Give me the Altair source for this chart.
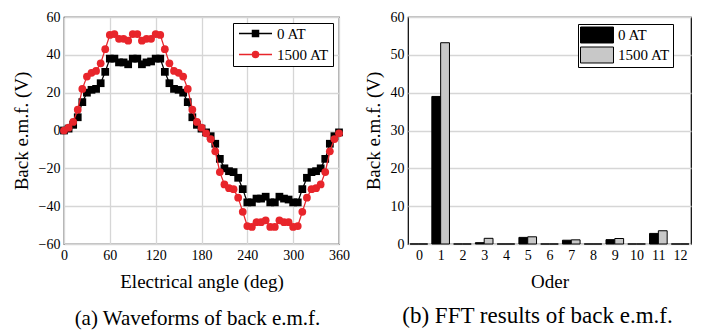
import altair as alt
import pandas as pd

FONT = "Liberation Serif, Times New Roman, DejaVu Serif, serif"

# ---- (a) waveform data ----
angle = [0, 6, 12, 18, 24, 30, 36, 42, 48, 54, 60, 66, 72, 78, 84, 90, 96, 102, 108, 114,
         120, 126, 132, 138, 144, 150, 156, 162, 168, 174, 180, 186, 192, 198, 204, 210,
         216, 222, 228, 234, 240, 246, 252, 258, 264, 270, 276, 282, 288, 294, 300, 306,
         312, 318, 324, 330, 336, 342, 348, 354, 360]
emf_0at = [0, 1, 3, 7, 15, 20, 21.5, 22, 25, 31, 38, 38, 36, 36, 35, 38, 38, 35, 36, 36.5,
           38, 38, 31, 25, 22, 21.5, 20, 15, 7, 3, 1,
           -1, -3, -7, -15, -20, -21.5, -22, -25, -31, -38, -38, -36, -36, -35, -38, -38,
           -35, -36, -36.5, -38, -38, -31, -25, -22, -21.5, -20, -15, -7, -3, -1]
emf_1500at = [0, 1.5, 4.5, 11, 22, 28.5, 30.5, 31.5, 35.5, 43, 50.5, 51, 48.5, 48.5, 47.5, 51,
              51, 47.5, 48.5, 48.5, 51, 50.5, 43, 35.5, 31.5, 30.5, 28.5, 22, 11, 4.5, 1.5,
              -1.5, -4.5, -11, -22, -28.5, -30.5, -31, -35.5, -43, -50.5, -51, -48.5, -48.5,
              -47.5, -51, -51, -47.5, -48.5, -48.5, -51, -50.5, -43, -35.5, -31, -30.5, -28.5,
              -22, -11, -4.5, -1.5]
series = ["0 AT", "1500 AT"]

# ---- (b) FFT data ----
orders = [str(i) for i in range(13)]
fft_0at = [0, 39.0, 0, 0.35, 0, 1.75, 0, 1.0, 0, 1.15, 0, 2.8, 0]
fft_1500at = [0, 53.2, 0, 1.5, 0, 1.9, 0, 1.1, 0, 1.45, 0, 3.5, 0]

BLACK = "#000000"
RED = "#e8252b"
GRAY = "#c8c8c8"

wave = pd.DataFrame({
    "angle": angle + angle,
    "emf": emf_0at + emf_1500at,
    "series": [series[0]] * len(angle) + [series[1]] * len(angle),
})
fft = pd.DataFrame({
    "order": orders + orders,
    "emf": fft_0at + fft_1500at,
    "series": [series[0]] * len(orders) + [series[1]] * len(orders),
})

SQ_LINE = "M-5.5,0H5.5M-1,-1H1V1H-1Z"
CI_LINE = "M-5.5,0H5.5M1,0A1,1 0 1,1 -1,0A1,1 0 1,1 1,0Z"
RECT = "M-2,-0.97H2V0.97H-2Z"

x_a = alt.X("angle:Q", scale=alt.Scale(domain=[0, 360], nice=False),
            axis=alt.Axis(values=[0, 60, 120, 180, 240, 300, 360], title="Electrical angle (deg)",
                          labelOverlap=False, labelFlush=False))
y_a = alt.Y("emf:Q", scale=alt.Scale(domain=[-60, 60], nice=False),
            axis=alt.Axis(values=[-60, -40, -20, 0, 20, 40, 60], title="Back e.m.f. (V)",
                          labelOverlap=False, labelFlush=False))

leg_a = alt.Legend(
    title=None, orient="none", legendX=169, legendY=6,
    strokeColor="black", fillColor="white", padding=3,
    labelFont=FONT, labelFontSize=15, labelColor="black", labelAlign="left",
    symbolSize=36, symbolStrokeWidth=1.5,
    symbolOffset=12, labelOffset=14, rowPadding=5,
)

base_a = alt.Chart(wave)
layers = []
for name, col, shp in [(series[0], BLACK, "square"), (series[1], RED, "circle")]:
    sub = base_a.transform_filter(alt.datum.series == name)
    layers.append(sub.mark_line(strokeWidth=1.3, color=col).encode(x=x_a, y=y_a))
    layers.append(sub.mark_point(filled=True, size=60, opacity=1, color=col, shape=shp)
                  .encode(x=x_a, y=y_a))

legend_layer = base_a.transform_filter("false").mark_point(filled=True, opacity=1).encode(
    x=x_a, y=y_a,
    fill=alt.Fill("series:N", scale=alt.Scale(domain=series, range=[BLACK, RED]), legend=leg_a),
    stroke=alt.Stroke("series:N", scale=alt.Scale(domain=series, range=[BLACK, RED]), legend=leg_a),
    shape=alt.Shape("series:N", scale=alt.Scale(domain=series, range=[SQ_LINE, CI_LINE]), legend=leg_a),
)
layers.append(legend_layer)

chart_a = alt.layer(*layers).properties(
    width=275, height=227,
    title=alt.TitleParams("(a) Waveforms of back e.m.f.", orient="bottom", font=FONT,
                          fontSize=21, fontWeight="normal", color="black", offset=17, dx=-4),
)

chart_b = alt.Chart(fft).mark_bar(stroke="black", strokeWidth=1).encode(
    x=alt.X("order:N", sort=orders,
            scale=alt.Scale(paddingInner=0, paddingOuter=0),
            axis=alt.Axis(title="Oder", labelAngle=0, tickBand="extent", labelOverlap=False)),
    xOffset=alt.XOffset("series:N", sort=series, scale=alt.Scale(paddingOuter=0.235, paddingInner=0)),
    y=alt.Y("emf:Q", scale=alt.Scale(domain=[0, 60], nice=False),
            axis=alt.Axis(values=[0, 10, 20, 30, 40, 50, 60], title="Back e.m.f. (V)",
                          labelOverlap=False, labelFlush=False)),
    color=alt.Color(
        "series:N",
        scale=alt.Scale(domain=series, range=[BLACK, GRAY]),
        legend=alt.Legend(
            title=None, orient="none", legendX=170, legendY=7,
            strokeColor="black", fillColor="white", padding=2,
            labelFont=FONT, labelFontSize=15, labelColor="black", labelAlign="left",
            symbolType=RECT, symbolSize=272, symbolStrokeWidth=1, symbolStrokeColor="black",
            symbolOffset=8, labelOffset=12, rowPadding=0,
        ),
    ),
).properties(
    width=283, height=227,
    title=alt.TitleParams("(b) FFT results of back e.m.f.", orient="bottom", font=FONT,
                          fontSize=23, fontWeight="normal", color="black", offset=14, dx=-12),
)

chart = alt.hconcat(chart_a, chart_b, spacing=12).resolve_scale(
    color="independent", fill="independent", stroke="independent", shape="independent"
).resolve_legend(color="independent").properties(
    padding={"left": 3, "top": 1, "right": 2, "bottom": 0}
).configure(
    font=FONT,
).configure_view(
    stroke="black", strokeWidth=1.2,
).configure_axis(
    labelFont=FONT, labelFontSize=14, labelColor="black",
    titleFont=FONT, titleFontSize=19, titleFontWeight="normal", titleColor="black",
    gridColor="#d6d6d6", gridWidth=1.3, domain=False, ticks=False,
    labelPadding=4,
).configure_axisX(titlePadding=10).configure_axisY(titlePadding=7
).configure_legend(labelFont=FONT).configure_title(font=FONT)

chart.save("out.html", embed_options={"renderer": "svg", "actions": False})
